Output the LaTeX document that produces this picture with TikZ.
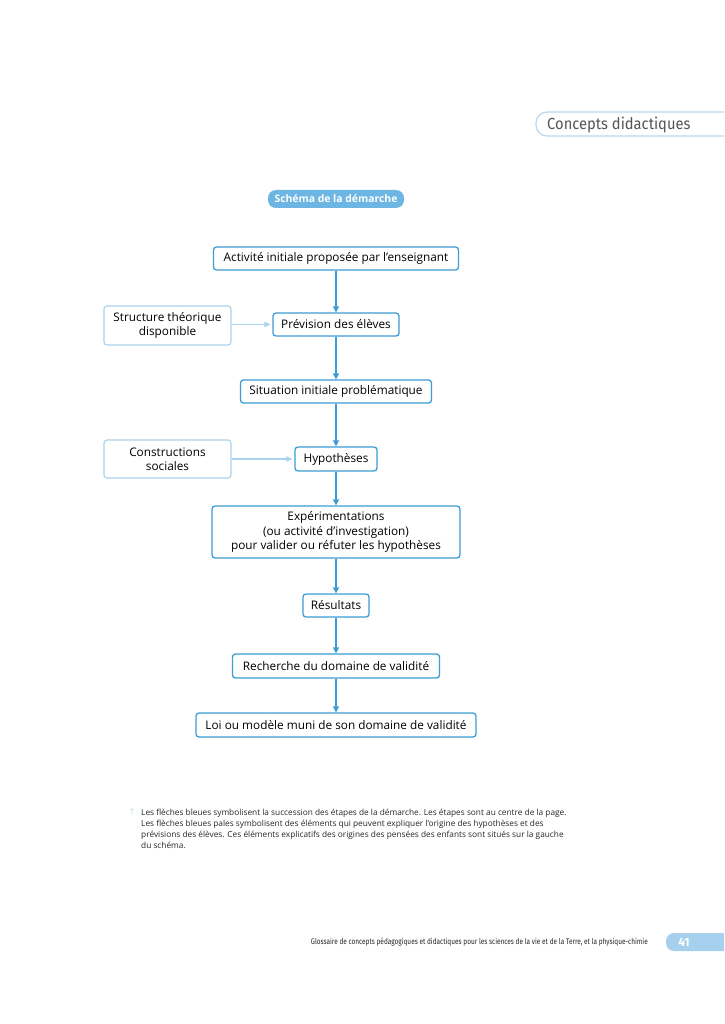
\documentclass[tikz,border=0pt]{standalone}
\usepackage{fontspec}
\usepackage{graphicx}
\setmainfont{Open Sans}
\newfontfamily\firafont{Fira Sans}
\usetikzlibrary{arrows.meta}
\definecolor{mainblue}{HTML}{3A9ED4}
\definecolor{paleblue}{HTML}{A9D2EC}
\definecolor{pillblue}{HTML}{6DB5E3}
\definecolor{pagepill}{HTML}{A6D0EE}
\definecolor{tabline}{HTML}{BDD6E8}
\definecolor{greytext}{HTML}{555555}
\tikzset{
  stepbox/.style={draw=mainblue, line width=1.3pt, rounded corners=3pt, fill=white,
    font=\fontsize{11.8}{14.5}\selectfont, inner sep=0pt, align=center, text=black},
  sidebox/.style={draw=paleblue, line width=1.1pt, rounded corners=3pt, fill=white,
    font=\fontsize{11.8}{14.5}\selectfont, inner sep=0pt, align=center, text=black},
  mainarrow/.style={draw=mainblue, line width=1.3pt, -{Triangle[length=6pt,width=6pt]}},
  palearrow/.style={draw=paleblue, line width=1.1pt, -{Triangle[length=6pt,width=5.5pt]}},
}
\begin{document}
\begin{tikzpicture}[x=1pt,y=-1pt]
\useasboundingbox (0,0) rectangle (724,1024);
\fill[white] (0,0) rectangle (724,1024);
% header tab
\begin{scope}
\clip (0,0) rectangle (724,1024);
\draw[tabline, line width=1.2pt, rounded corners=11pt] (760,112) -- (536,112) -- (536,136) -- (760,136);
\end{scope}
\node[anchor=west, text=greytext, font=\firafont\fontsize{16}{18}\selectfont, inner sep=0pt] (tab) at (547,125) {\scalebox{0.92}[1]{Concepts didactiques}};
% title pill
\node[fill=pillblue, rounded corners=8pt, minimum width=136pt, minimum height=18pt, inner sep=0pt,
  text=white, font=\bfseries\fontsize{10.4}{12}\selectfont] (title) at (336,199) {Schéma de la démarche};
% steps
\node[stepbox, minimum width=245pt, minimum height=23pt] (b1) at (336,258.5) {Activité initiale proposée par l’enseignant};
\node[stepbox, minimum width=126pt, minimum height=23pt] (b2) at (336,324.5) {Prévision des élèves};
\node[stepbox, minimum width=191pt, minimum height=23pt] (b3) at (336,391.5) {Situation initiale problématique};
\node[stepbox, minimum width=82pt, minimum height=24pt] (b4) at (336,459) {Hypothèses};
\node[stepbox, minimum width=248pt, minimum height=52pt] (b5) at (336,532) {Expérimentations\\(ou activité d’investigation)\\pour valider ou réfuter les hypothèses};
\node[stepbox, minimum width=66pt, minimum height=23pt] (b6) at (336,605.5) {Résultats};
\node[stepbox, minimum width=207pt, minimum height=24pt] (b7) at (336,666) {Recherche du domaine de validité};
\node[stepbox, minimum width=280pt, minimum height=24pt] (b8) at (336,725) {Loi ou modèle muni de son domaine de validité};
% side boxes
\node[sidebox, minimum width=127pt, minimum height=39pt] (s1) at (167.5,325.5) {Structure théorique\\disponible};
\node[sidebox, minimum width=127pt, minimum height=38pt] (s2) at (167.5,459) {Constructions\\sociales};
% arrows
\draw[mainarrow] (b1) -- (b2);
\draw[mainarrow] (b2) -- (b3);
\draw[mainarrow] (b3) -- (b4);
\draw[mainarrow] (b4) -- (b5);
\draw[mainarrow] (b5) -- (b6);
\draw[mainarrow] (b6) -- (b7);
\draw[mainarrow] (b7) -- (b8);
\draw[palearrow] (s1.east |- b2) -- ([xshift=-2pt]b2.west);
\draw[palearrow] (s2.east |- b4) -- ([xshift=-2pt]b4.west);
% footnote
\node[anchor=north west, text=paleblue, font=\fontsize{8}{9}\selectfont, inner sep=0pt] (fnmark) at (130,808.5) {†};
\node[anchor=north west, text=black!85, font=\fontsize{8.3}{11.3}\selectfont, align=left, inner sep=0pt] (fn) at (141,808.5) {Les flèches bleues symbolisent la succession des étapes de la démarche. Les étapes sont au centre de la page.\\
Les flèches bleues pales symbolisent des éléments qui peuvent expliquer l’origine des hypothèses et des\\
prévisions des élèves. Ces éléments explicatifs des origines des pensées des enfants sont situés sur la gauche\\
du schéma.};
% footer
\node[anchor=east, text=black!85, font=\firafont\fontsize{8.1}{9}\selectfont, inner sep=0pt] (footer) at (648,942) {\scalebox{0.8}[1]{Glossaire de concepts pédagogiques et didactiques pour les sciences de la vie et de la Terre, et la physique-chimie}};
\begin{scope}
\clip (0,0) rectangle (724,1024);
\fill[pagepill, rounded corners=8pt] (666,933) rectangle (740,951);
\end{scope}
\node[text=white, font=\firafont\bfseries\fontsize{12}{13}\selectfont, inner sep=0pt] (pnum) at (684,942) {41};
\end{tikzpicture}
\end{document}
